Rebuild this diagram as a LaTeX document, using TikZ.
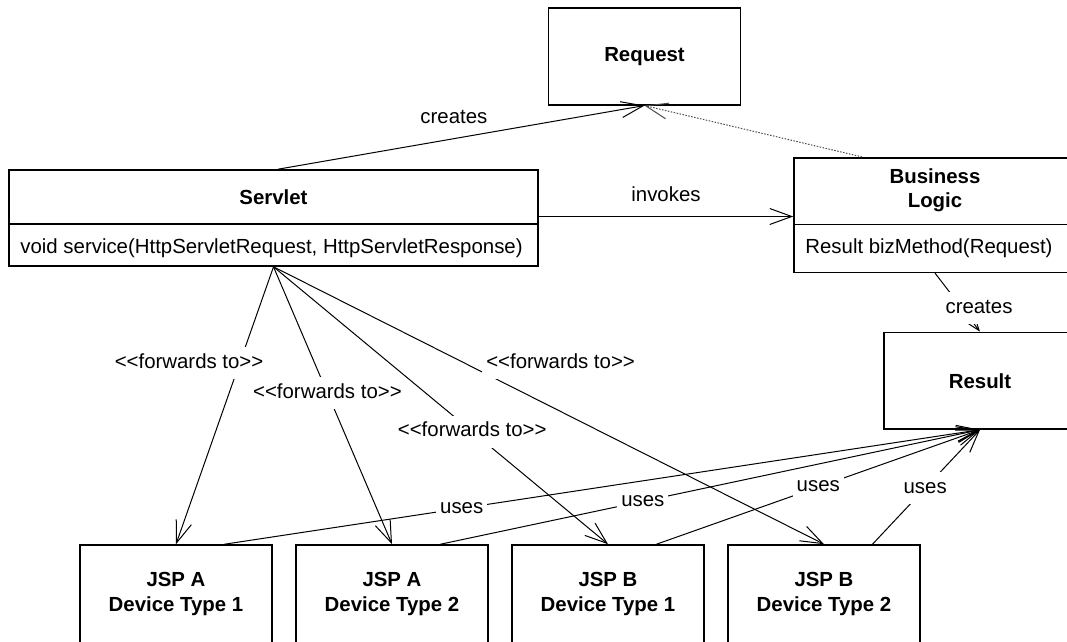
\documentclass[tikz,border=0pt]{standalone}
\usepackage{fontspec}
\setmainfont{Liberation Sans}
\usetikzlibrary{arrows.meta}
\newcommand\dgfont{\fontsize{20.4pt}{24.5pt}\selectfont}
% guillemet-free double angle brackets
\newcommand\ltlt{<\kern0pt<}
\newcommand\gtgt{>\kern0pt>}
\newcommand\fwd{\ltlt forwards to\gtgt}
\tikzset{
  cls/.style={draw, line width=1.6pt, inner sep=0pt},
  ttl/.style={font=\dgfont\bfseries, align=center, inner sep=0pt},
  op/.style={font=\dgfont, anchor=west, inner sep=0pt},
  divider/.style={line width=1.2pt},
  conn/.style={line width=1pt, -{Straight Barb[length=22pt,width=16pt]}},
  dep/.style={conn, draw=black!70, dash pattern=on 1.5pt off 1.5pt},
  lbl/.style={font=\dgfont, fill=white, inner xsep=4pt, inner ysep=6pt,
              text height=15pt, text depth=5pt},
  tag/.style={font=\dgfont, inner sep=0pt},
  jsp/.style={cls, minimum width=192pt, minimum height=98pt, align=center,
              font=\dgfont\bfseries},
}
\begin{document}
\begin{tikzpicture}[x=1pt, y=-1pt]
\fill[white] (0,0) rectangle (1067,641);
\useasboundingbox (0,0) rectangle (1067,641);

% simple classes
\node[cls, minimum width=192pt, minimum height=96.5pt, font=\dgfont\bfseries]
  (request) at (644.5,56.5) {Request};
\node[cls, minimum width=192pt, minimum height=96.5pt, font=\dgfont\bfseries]
  (result) at (980,380.7) {Result};

% Servlet class with one operation
\node[cls, minimum width=529pt, minimum height=96pt] (servlet) at (273.5,218) {};
\node[ttl] (servletname) at ([yshift=21pt]servlet.center) {Servlet};
\draw[divider] ([yshift=-6pt]servlet.west) -- ([yshift=-6pt]servlet.east);
\node[op] (servletop) at ([xshift=12pt,yshift=-30pt]servlet.west)
  {void service(HttpServletRequest, HttpServletResponse)};

% Business logic class with one operation
\node[cls, minimum width=282pt, minimum height=114.6pt] (bl) at (935,215) {};
\node[ttl] (blname) at ([yshift=24.5pt]bl.center) {Business\\Logic};
\draw[divider] ([yshift=-9.3pt]bl.west) -- ([yshift=-9.3pt]bl.east);
\node[op] (blop) at ([xshift=12pt,yshift=-33pt]bl.west)
  {Result bizMethod(Request)};

% device specific pages
\node[jsp] (jspa1) at (176,594) {JSP A\\Device Type 1};
\node[jsp] (jspa2) at (392,594) {JSP A\\Device Type 2};
\node[jsp] (jspb1) at (608,594) {JSP B\\Device Type 1};
\node[jsp] (jspb2) at (824,594) {JSP B\\Device Type 2};

% creation and invocation
\draw[conn] ([xshift=4.5pt]servlet.north) --
  node[tag, pos=0.48, yshift=21.6pt] (lcreates) {creates} (request.south);
\draw[dep] ([xshift=-73pt]bl.north) -- (request.south);
\draw[conn] ([yshift=1.5pt]servlet.east) --
  node[tag, midway, yshift=22pt] (linvokes) {invokes}
  ([yshift=1.5pt]servlet.east -| bl.west);
\draw[conn] (bl.south) --
  node[lbl, pos=0.6, xshift=17pt] (lcreatesres) {creates} (result.north);

% forwarding to the pages
\draw[conn] (servlet.south) --
  node[lbl, pos=0.348, xshift=-50.5pt] (lfwda1) {\fwd} (jspa1.north);
\draw[conn] (servlet.south) --
  node[lbl, pos=0.455] (lfwda2) {\fwd} (jspa2.north);
\draw[conn] (servlet.south) --
  node[lbl, pos=0.594] (lfwdb1) {\fwd} (jspb1.north);
\draw[conn] (servlet.south) --
  node[lbl, pos=0.348, xshift=95.5pt] (lfwdb2) {\fwd} (jspb2.north);

% pages reading the result
\draw[conn] ([xshift=48.5pt]jspa1.north) --
  node[lbl, pos=0.314] (lusesa1) {uses} (result.south);
\draw[conn] ([xshift=48.5pt]jspa2.north) --
  node[lbl, pos=0.375] (lusesa2) {uses} (result.south);
\draw[conn] ([xshift=48.5pt]jspb1.north) --
  node[lbl, pos=0.5] (lusesb1) {uses} (result.south);
\draw[conn] ([xshift=48.5pt]jspb2.north) --
  node[lbl, pos=0.49] (lusesb2) {uses} (result.south);
\end{tikzpicture}
\end{document}
